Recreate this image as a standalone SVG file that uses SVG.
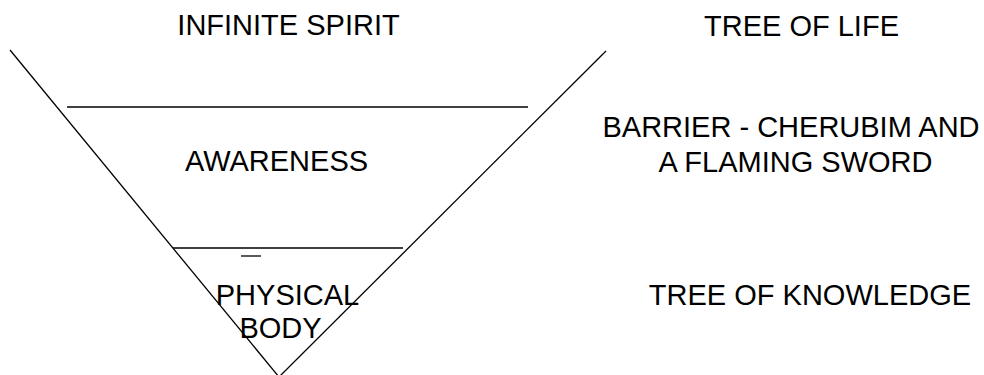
<svg xmlns="http://www.w3.org/2000/svg" width="984" height="375" viewBox="0 0 984 375">
<style>
.ln{stroke:#000;stroke-width:1.3;fill:none}
.t{font-family:"Liberation Sans",Arial,sans-serif;font-size:29px;fill:#000;text-anchor:middle}
</style>
<rect width="984" height="375" fill="#fff"/>
<g id="connectors">
<line class="ln" x1="10" y1="50" x2="279" y2="377"/>
<line class="ln" x1="606" y1="51" x2="279" y2="377"/>
<line class="ln" x1="67" y1="107" x2="528" y2="107"/>
<line class="ln" x1="173" y1="248" x2="403" y2="248"/>
<line class="ln" x1="241" y1="256" x2="261" y2="256"/>
</g>
<g id="infinite-spirit"><text class="t" x="288.5" y="35">INFINITE SPIRIT</text></g>
<g id="tree-of-life"><text class="t" x="801.5" y="36">TREE OF LIFE</text></g>
<g id="awareness"><text class="t" x="276.5" y="171">AWARENESS</text></g>
<g id="barrier"><text class="t" x="791" y="137">BARRIER - CHERUBIM AND</text><text class="t" x="795.5" y="172">A FLAMING SWORD</text></g>
<g id="physical-body"><text class="t" x="287.5" y="305">PHYSICAL</text><text class="t" x="280.5" y="338">BODY</text></g>
<g id="tree-of-knowledge"><text class="t" x="810" y="305">TREE OF KNOWLEDGE</text></g>
</svg>
